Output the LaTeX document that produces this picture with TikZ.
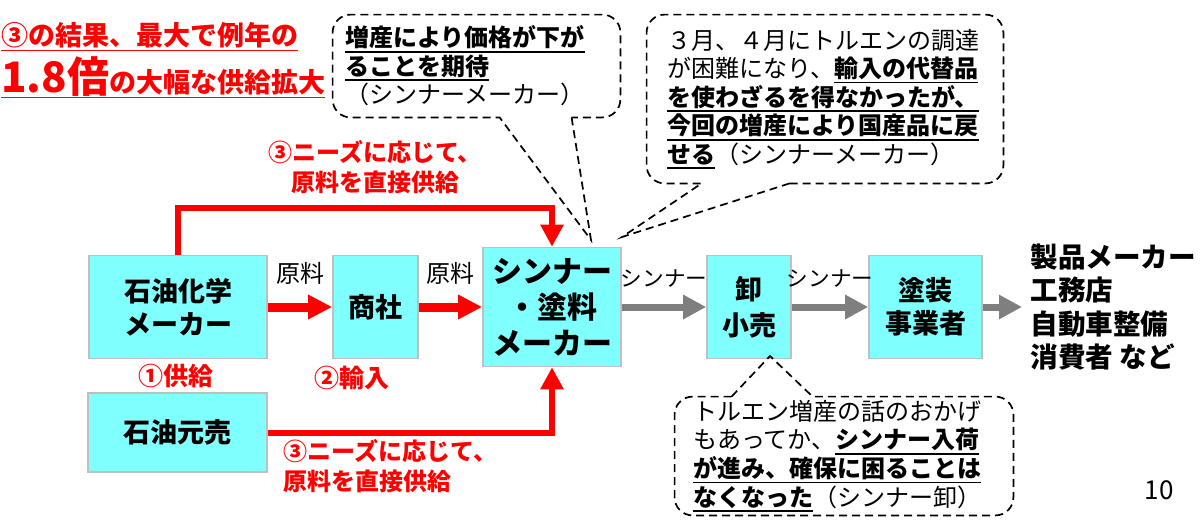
\documentclass[tikz,border=0pt]{standalone}
\usepackage{fontspec}
\setmainfont{Noto Sans CJK JP}
\usetikzlibrary{arrows.meta,calc}
\setlength\parindent{0pt}
\definecolor{boxcyan}{RGB}{128,255,255}
\definecolor{boxedge}{RGB}{191,191,191}
\definecolor{flowred}{RGB}{255,0,0}
\definecolor{flowgray}{RGB}{127,127,127}
\newcommand\ubf[1]{\leavevmode\setbox0\hbox{\bfseries#1}\rlap{\rule[-0.24em]{\wd0}{0.07em}}\box0}
\tikzset{actor/.style={draw=boxedge,fill=boxcyan,line width=0.8pt,align=center,inner sep=0pt,
		font=\bfseries\fontsize{13.5}{16.5}\selectfont},
	redarrow/.style={draw=flowred,line width=4.5pt,-{Triangle[length=12pt,width=11.5pt]}},
	redroute/.style={draw=flowred,line width=3pt,-{Triangle[length=11pt,width=11pt]}},
	grayarrow/.style={draw=flowgray,line width=3.5pt,-{Triangle[length=11.5pt,width=11.5pt]}},
	flowlbl/.style={inner sep=0pt,font=\fontsize{12}{14}\selectfont},
	redlbl/.style={text=flowred,inner sep=0pt,font=\bfseries\fontsize{12}{15}\selectfont},
	note/.style={inner ysep=0pt,align=left,font=\fontsize{12}{14.3}\selectfont},
	bubble/.style={draw,line width=0.85pt,dash pattern=on 4pt off 2.5pt}}
\begin{document}
\begin{tikzpicture}[x=0.5pt,y=-0.5pt]
\useasboundingbox (0,0) rectangle (1200,521);
\node[anchor=base west,inner sep=0pt,text=flowred,font=\bfseries\fontsize{13.5}{16}\selectfont] (headA) at (1,45) {\ubf{③の結果、最大で例年の}};
\node[anchor=base west,inner sep=0pt,text=flowred,font=\bfseries\fontsize{13.5}{16}\selectfont] (headB) at (1,92) {\ubf{{\fontsize{21}{21}\selectfont 1.8倍}の大幅な供給拡大}};

\node[actor,minimum width=89pt,minimum height=51.5pt] (petchem) at (178,307) {石油化学\\メーカー};
\node[actor,minimum width=42.5pt,minimum height=51.5pt] (shosha) at (375.5,307) {商社};
\node[actor,minimum width=69pt,minimum height=59.5pt,font=\bfseries\fontsize{15}{18}\selectfont] (thinner) at (552,307) {シンナー\\・塗料\\メーカー};
\node[actor,minimum width=42pt,minimum height=51.5pt,font=\bfseries\fontsize{13.5}{18}\selectfont] (oroshi) at (749,307) {卸\\小売};
\node[actor,minimum width=56.5pt,minimum height=51.5pt] (tosou) at (925.5,307) {塗装\\事業者};
\node[actor,minimum width=89.5pt,minimum height=39.5pt] (moto) at (177.5,432.5) {石油元売};
\node[anchor=west,inner xsep=4pt,align=left,font=\bfseries\fontsize{13.8}{16.6}\selectfont] (users) at (1022,307) {製品メーカー\\工務店\\自動車整備\\消費者 など};

\draw[redarrow] (petchem) -- node[flowlbl,above=9pt] {原料} (shosha);
\draw[redarrow] (shosha) -- node[flowlbl,above=9pt] {原料} (thinner);
\draw[grayarrow] (thinner) -- node[flowlbl,above=8pt,font=\fontsize{10.8}{12}\selectfont] {シンナー} (oroshi);
\draw[grayarrow] (oroshi) -- node[flowlbl,above=8pt,font=\fontsize{10.8}{12}\selectfont] {シンナー} (tosou);
\draw[grayarrow] (tosou) -- (users);
\draw[redroute] (petchem.north) -- ++(0,-47) -| (thinner.north);
\draw[redroute] (moto.east) -| (thinner.south);

\node[redlbl,align=center] (needtop) at (375,167) {③ニーズに応じて、\\原料を直接供給};
\node[redlbl,anchor=west,align=left] (needbot) at (283,466) {③ニーズに応じて、\\原料を直接供給};
\node[redlbl,font=\bfseries\fontsize{12.5}{15}\selectfont] (supply) at (176,376) {①供給};
\node[redlbl,font=\bfseries\fontsize{12.5}{15}\selectfont] (imports) at (352,378) {②輸入};

\node[note,inner xsep=6pt,text width=131.5pt,minimum height=51pt] (noteA) at (476.5,66)
  {\ubf{増産により価格が下が}\\\ubf{ることを期待}\\（シンナーメーカー）};
\node[note,inner xsep=10pt,text width=158pt,minimum height=84pt] (noteB) at (825,99)
  {３月、４月にトルエンの調達\\が困難になり、\ubf{輸入の代替品}\\\ubf{を使わざるを得なかったが、}\\\ubf{今回の増産により国産品に戻}\\\ubf{せる}（シンナーメーカー）};
\node[note,inner xsep=9pt,text width=151pt,minimum height=59pt] (noteC) at (844,456)
  {トルエン増産の話のおかげ\\もあってか、\ubf{シンナー入荷}\\\ubf{が進み、確保に困ることは}\\\ubf{なくなった}（シンナー卸）};
\coordinate (tipA) at (591,240);
\coordinate (tipB) at (622,237);
\coordinate (tipC) at (770,356);
\draw[bubble] ($(noteA.south west)+(239,0)$) -- (tipA) -- ($(noteA.south west)+(167,0)$) [rounded corners=9pt] -- (noteA.south west) -- (noteA.north west) -- (noteA.north east) -- (noteA.south east) -- ($(noteA.south west)+(239,0)$);
\draw[bubble] ($(noteB.south west)+(143,0)$) -- (tipB) -- ($(noteB.south west)+(55,0)$) [rounded corners=9pt] -- (noteB.south west) -- (noteB.north west) -- (noteB.north east) -- (noteB.south east) -- ($(noteB.south west)+(143,0)$);
\draw[bubble] ($(noteC.north west)+(57,0)$) -- (tipC) -- ($(noteC.north west)+(138,0)$) [rounded corners=9pt] -- (noteC.north east) -- (noteC.south east) -- (noteC.south west) -- (noteC.north west) -- ($(noteC.north west)+(57,0)$);

\node[inner sep=0pt,font=\fontsize{13}{15}\selectfont] (pagenum) at (1159,490) {10};
\end{tikzpicture}
\end{document}
